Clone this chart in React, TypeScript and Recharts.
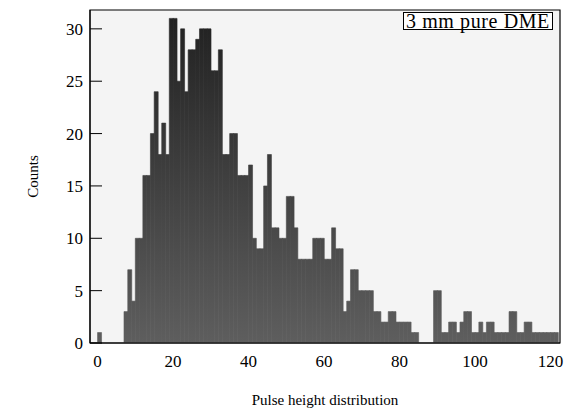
import { Bar, BarChart, Label, ReferenceArea, XAxis, YAxis } from 'recharts'

// pulse-height histogram, one count per unit-wide bin starting at 0
const counts = [
  1, 0, 0, 0, 0, 0, 0, 3, 7, 4,
  10, 10, 16, 16, 20, 24, 18, 21, 18, 31,
  31, 25, 30, 24, 28, 28, 29, 30, 30, 30,
  26, 26, 28, 18, 18, 20, 20, 16, 16, 16,
  17, 10, 9, 9, 15, 18, 11, 11, 10, 10,
  14, 14, 11, 8, 8, 8, 8, 10, 10, 10,
  8, 8, 11, 9, 9, 3, 4, 7, 7, 5,
  5, 5, 5, 3, 3, 2, 2, 3, 3, 2,
  2, 2, 2, 1, 1, 0, 0, 0, 0, 5,
  5, 1, 1, 2, 2, 1, 2, 3, 3, 1,
  1, 2, 1, 2, 2, 1, 1, 1, 1, 3,
  3, 1, 1, 2, 2, 1, 1, 1, 1, 1,
  1, 1, 0,
]
const xTicks = [0, 20, 40, 60, 80, 100, 120]
const yTicks = [0, 5, 10, 15, 20, 25, 30]
const xTitle = 'Pulse height distribution'
const yTitle = 'Counts'
const legendText = '3 mm pure DME'

const xDomain: [number, number] = [-2, 122.5]
const yDomain: [number, number] = [0, 31.8]

const data = counts.map((c, i) => ({ bin: i + 0.5, count: c }))

const serif = '"Liberation Serif", "Times New Roman", serif'

export default function App() {
  return (
    <div style={{ position: 'absolute', left: 0, top: 0, width: 572, height: 413, background: '#fff' }}>
      <BarChart
        width={572}
        height={413}
        data={data}
        margin={{ top: 10, right: 12, bottom: 0, left: 0 }}
        barCategoryGap={0}
        barGap={0}
      >
        <defs>
          <linearGradient id="barShade" x1="0" y1="10" x2="0" y2="343" gradientUnits="userSpaceOnUse">
            <stop offset="0" stopColor="#202020" />
            <stop offset="1" stopColor="#5e5e5e" />
          </linearGradient>
        </defs>
        <ReferenceArea
          x1={xDomain[0]}
          x2={xDomain[1]}
          y1={yDomain[0]}
          y2={yDomain[1]}
          fill="#f4f4f4"
          fillOpacity={1}
          stroke="none"
        />
        <XAxis
          dataKey="bin"
          type="number"
          domain={xDomain}
          ticks={xTicks}
          allowDataOverflow
          height={70}
          tickLine={false}
          tickMargin={6}
          axisLine={{ stroke: '#000' }}
          tick={{ fill: '#000', fontSize: 17, fontFamily: serif }}
        >
          <Label value={xTitle} position="insideBottom" offset={8} fill="#000" fontSize={15} fontFamily={serif} />
        </XAxis>
        <YAxis
          type="number"
          domain={yDomain}
          ticks={yTicks}
          allowDataOverflow
          width={90}
          tickSize={-12}
          tickMargin={19}
          tickLine={{ stroke: '#000' }}
          axisLine={{ stroke: '#000' }}
          tick={{ fill: '#000', fontSize: 17, fontFamily: serif }}
        >
          <Label
            content={(p: any) => {
              const vb = p.viewBox
              const cx = vb.x + 33
              const cy = vb.y + vb.height / 2
              return (
                <text
                  x={cx}
                  y={cy}
                  transform={`rotate(-90 ${cx} ${cy})`}
                  textAnchor="middle"
                  dominantBaseline="central"
                  fill="#000"
                  fontSize={15}
                  fontFamily={serif}
                >
                  {yTitle}
                </text>
              )
            }}
          />
        </YAxis>
        <Bar
          dataKey="count"
          fill="url(#barShade)"
          stroke="url(#barShade)"
          strokeWidth={0.6}
          isAnimationActive={false}
        />
        <ReferenceArea
          x1={xDomain[0]}
          x2={xDomain[1]}
          y1={yDomain[0]}
          y2={yDomain[1]}
          fill="none"
          stroke="#000"
          strokeWidth={1.2}
        />
      </BarChart>
      <div
        style={{
          position: 'absolute',
          left: 403,
          top: 12,
          height: 16,
          padding: '0 2px',
          border: '1px solid #000',
          background: '#fff',
          fontFamily: serif,
          fontSize: 20,
          letterSpacing: '0.6px',
          lineHeight: '16px',
          whiteSpace: 'nowrap',
          color: '#000',
        }}
      >
        {legendText}
      </div>
    </div>
  )
}
